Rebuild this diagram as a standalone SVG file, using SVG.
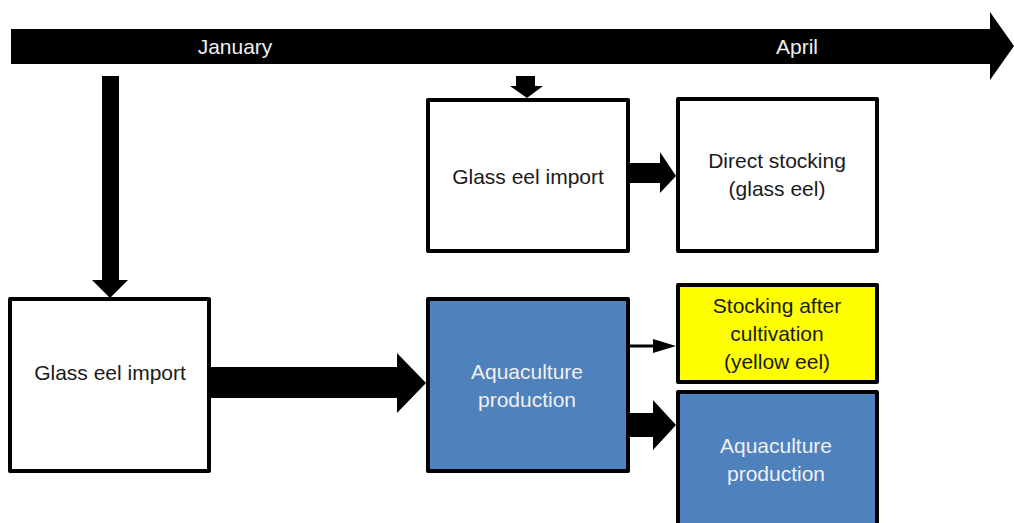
<svg xmlns="http://www.w3.org/2000/svg" width="1014" height="523" viewBox="0 0 1014 523">
  <style>
    .box { stroke: #000; stroke-width: 4; stroke-linejoin: round; }
    .white { fill: #fff; }
    .blue { fill: #4f81bd; }
    .yellow { fill: #ffff00; }
    .arrow { fill: #000; }
    text { font-family: "Liberation Sans", Arial, sans-serif; font-size: 21px; text-anchor: middle; }
    .dark { fill: #1a1a1a; }
    .light { fill: #f0f0f0; }
  </style>

  <!-- timeline -->
  <g id="timeline">
    <path class="arrow" d="M11,29 H990 V12 L1014,46 L990,80 V64 H11 Z"/>
    <text class="light" x="235" y="54">January</text>
    <text class="light" x="797" y="54">April</text>
  </g>

  <!-- connectors -->
  <g id="connectors">
    <!-- January down to left import -->
    <path class="arrow" d="M102,76 H119 V280 H128 L110,298 L92,280 H102 Z"/>
    <!-- timeline down to top import -->
    <path class="arrow" d="M516,76 H535 V86 H543 L527,98 L510,86 H516 Z"/>
    <!-- top import to direct stocking -->
    <path class="arrow" d="M630,163 H660 V152 L676,176 L660,193 V183 H630 Z"/>
    <!-- left import to aquaculture -->
    <path class="arrow" d="M211,367 H397 V353 L426,383 L397,413 V398 H211 Z"/>
    <!-- aquaculture to yellow eel stocking -->
    <path class="arrow" d="M630,344.5 H653 V339 L676,346 L653,353 V347.5 H630 Z"/>
    <!-- aquaculture to aquaculture -->
    <path class="arrow" d="M630,413 H653 V400 L676,425 L653,450 V437 H630 Z"/>
  </g>

  <g id="import-left">
    <rect class="box white" x="10" y="299" width="199" height="172"/>
    <text class="dark" x="110" y="380">Glass eel import</text>
  </g>

  <g id="import-top">
    <rect class="box white" x="428" y="100" width="200" height="151"/>
    <text class="dark" x="528" y="184">Glass eel import</text>
  </g>

  <g id="direct-stocking">
    <rect class="box white" x="678" y="99" width="199" height="152"/>
    <text class="dark" x="777" y="168">Direct stocking</text>
    <text class="dark" x="777" y="196">(glass eel)</text>
  </g>

  <g id="aquaculture-mid">
    <rect class="box blue" x="428" y="299" width="200" height="172"/>
    <text class="light" x="527" y="379">Aquaculture</text>
    <text class="light" x="527" y="407">production</text>
  </g>

  <g id="stocking-yellow">
    <rect class="box yellow" x="678" y="285" width="199" height="97"/>
    <text class="dark" x="777" y="313">Stocking after</text>
    <text class="dark" x="777" y="341">cultivation</text>
    <text class="dark" x="777" y="369">(yellow eel)</text>
  </g>

  <g id="aquaculture-right">
    <rect class="box blue" x="678" y="392" width="199" height="140"/>
    <text class="light" x="776" y="453">Aquaculture</text>
    <text class="light" x="776" y="481">production</text>
  </g>
</svg>
